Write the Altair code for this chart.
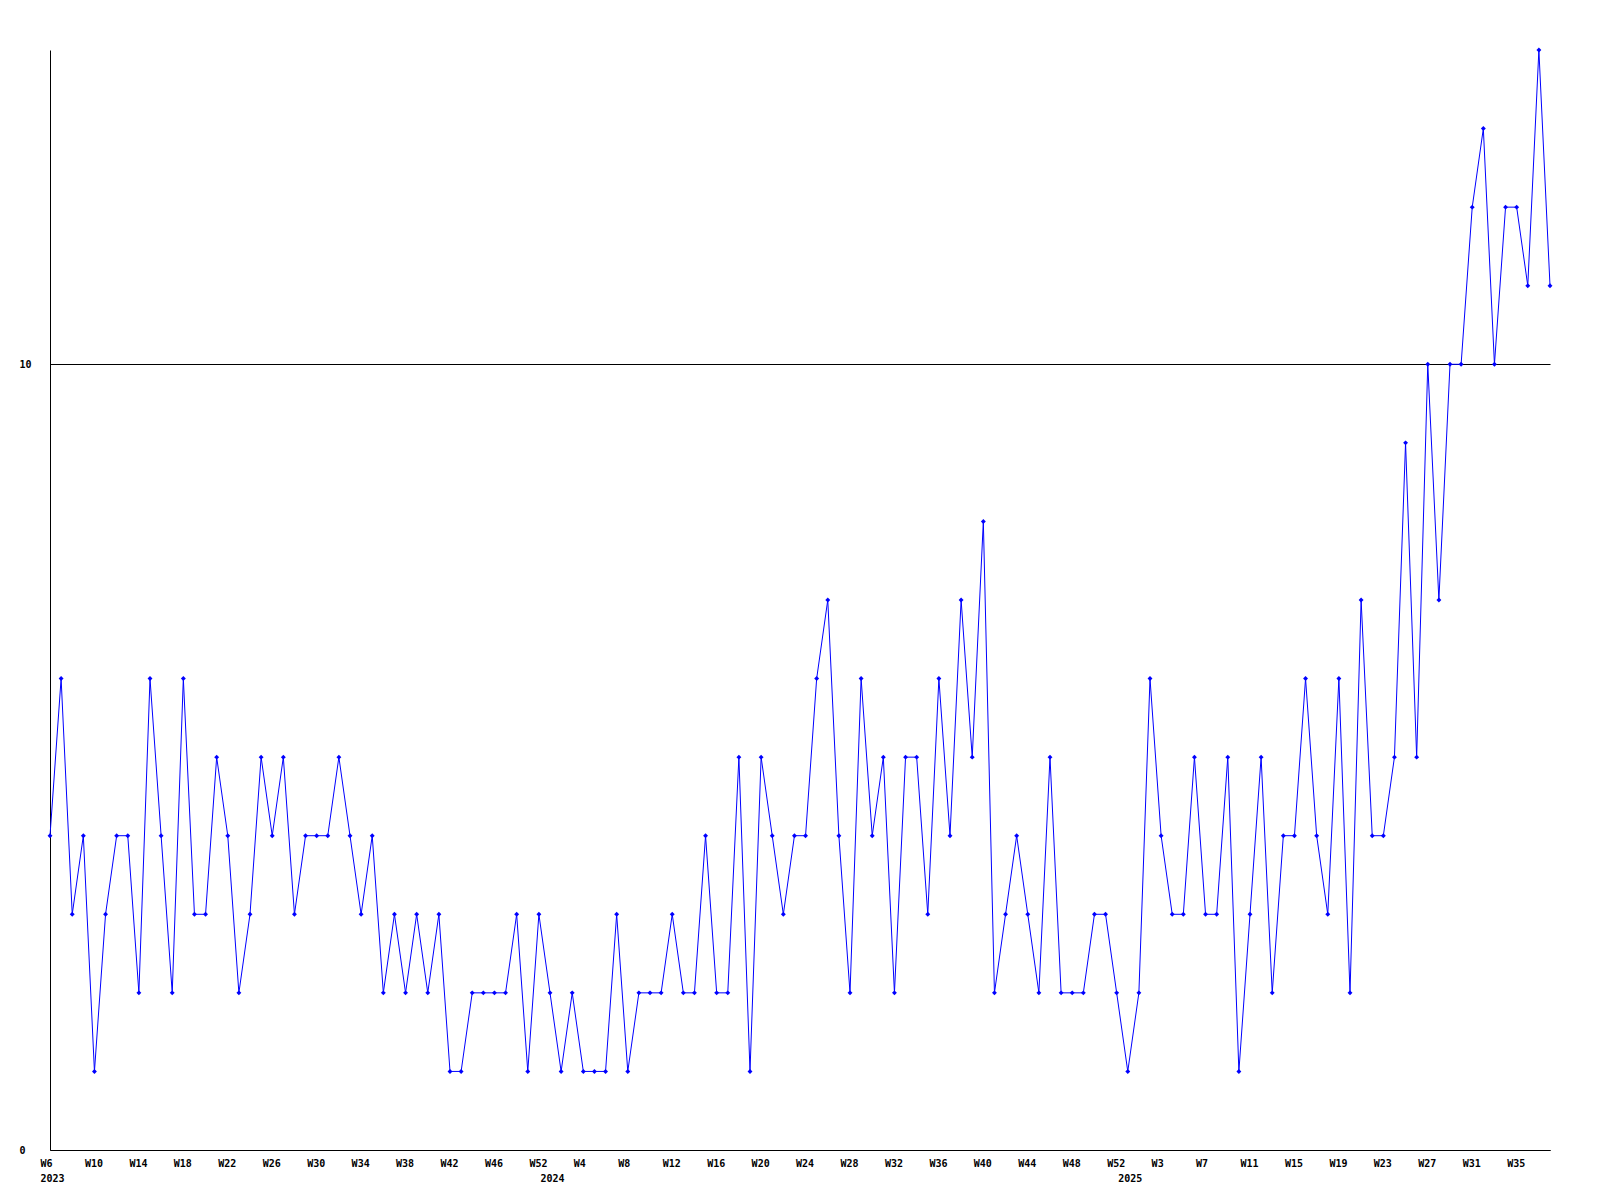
import json
import altair as alt
import pandas as pd

# Weekly counts, 2023 W6 .. 2025 (one value per plotted week)
counts = [4, 6, 3, 4, 1, 3, 4, 4, 2, 6, 4, 2, 6, 3, 3, 5, 4, 2, 3, 5,
          4, 5, 3, 4, 4, 4, 5, 4, 3, 4, 2, 3, 2, 3, 2, 3, 1, 1, 2, 2,
          2, 2, 3, 1, 3, 2, 1, 2, 1, 1, 1, 3, 1, 2, 2, 2, 3, 2, 2, 4,
          2, 2, 5, 1, 5, 4, 3, 4, 4, 6, 7, 4, 2, 6, 4, 5, 2, 5, 5, 3,
          6, 4, 7, 5, 8, 2, 3, 4, 3, 2, 5, 2, 2, 2, 3, 3, 2, 1, 2, 6,
          4, 3, 3, 5, 3, 3, 5, 1, 3, 5, 2, 4, 4, 6, 4, 3, 6, 2, 7, 4,
          4, 5, 9, 5, 10, 7, 10, 10, 12, 13, 10, 12, 12, 11, 14, 11]

# Week labels shown every 4th point
week_labels = ["W6", "W10", "W14", "W18", "W22", "W26", "W30", "W34", "W38",
               "W42", "W46", "W52",
               "W4", "W8", "W12", "W16", "W20", "W24", "W28", "W32", "W36",
               "W40", "W44", "W48", "W52",
               "W3", "W7", "W11", "W15", "W19", "W23", "W27", "W31", "W35"]
week_label_step = 4

# Year labels and the point index where each year starts
year_labels = ["2023", "2024", "2025"]
year_start = [0, 45, 97]

y_ticks = [0, 10]

df = pd.DataFrame({"i": list(range(len(counts))), "count": counts})

week_ticks = [k * week_label_step for k in range(len(week_labels))]
tick_values = sorted(set(week_ticks) | set(year_start))

weeks_js = json.dumps(week_labels)
label_expr = ""
for lbl, s in zip(year_labels, year_start):
    first = ("%s[%d]" % (weeks_js, s // week_label_step)) if s % week_label_step == 0 else "''"
    label_expr += "datum.value == %d ? [%s, '%s'] : " % (s, first, lbl)
label_expr += "(datum.value %% %d == 0 ? %s[floor(datum.value / %d)] : '')" % (
    week_label_step, weeks_js, week_label_step)

font = "DejaVu Sans Mono"

x_enc = alt.X(
    "i:Q",
    scale=alt.Scale(domain=[0, len(counts) - 1], nice=False, zero=False),
    axis=alt.Axis(
        values=tick_values,
        labelExpr=label_expr,
        title=None,
        ticks=False,
        tickSize=0,
        grid=False,
        domainColor="black",
        domainWidth=1,
        labelAlign="left",
        labelOffset=-10,
        labelBaseline="top",
        labelPadding=8,
        labelFont=font,
        labelFontSize=10,
        labelFontWeight="bold",
        labelColor="black",
        labelOverlap=False,
        labelFlush=False,
        labelBound=False,
        labelLineHeight=15,
    ),
)

y_enc = alt.Y(
    "count:Q",
    scale=alt.Scale(domain=[0, 14], nice=False, zero=True),
    axis=alt.Axis(
        values=y_ticks,
        title=None,
        ticks=False,
        tickSize=0,
        grid=True,
        gridColor="black",
        gridOpacity=1,
        gridWidth=1,
        domainColor="black",
        domainWidth=1,
        labelAlign="left",
        labelBaseline="middle",
        labelPadding=31,
        labelFont=font,
        labelFontSize=10,
        labelFontWeight="bold",
        labelColor="black",
        labelOverlap=False,
        labelFlush=False,
        labelBound=False,
    ),
)

base = alt.Chart(df).encode(x=x_enc, y=y_enc)

line = base.mark_line(color="#0000ff", strokeWidth=1)
pts = base.mark_point(shape="diamond", filled=True, size=24, color="#0000ff", opacity=1)

chart = (
    alt.layer(line, pts)
    .properties(
        width=1500,
        height=1100,
        autosize=alt.AutoSizeParams(type="none"),
        padding={"left": 42, "top": 42, "right": 42, "bottom": 42},
        background="white",
    )
    .configure_view(strokeOpacity=0)
)

chart.save("out.html", embed_options={"renderer": "svg", "actions": False})
